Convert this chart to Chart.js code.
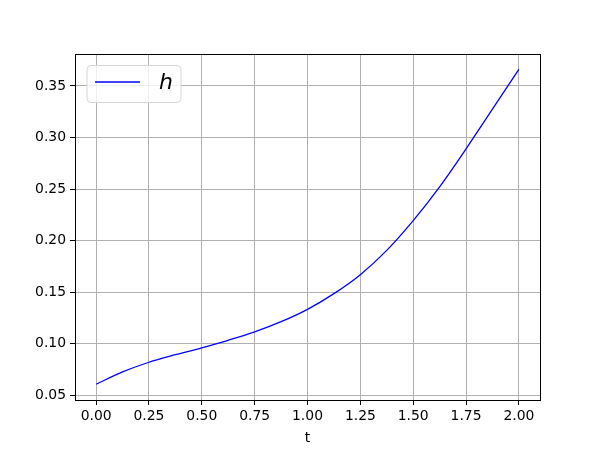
<!DOCTYPE html>
<html>
<head>
<meta charset="utf-8">
<script src="https://cdn.jsdelivr.net/npm/chart.js@4/dist/chart.umd.min.js"></script>
<style>
  html, body { margin: 0; padding: 0; background: #fff; }
  #c { display: block; }
</style>
</head>
<body>
<canvas id="c" width="600" height="450"></canvas>
<script>
// ---- data ----
const tValues = [0, 0.125, 0.25, 0.375, 0.5, 0.625, 0.75, 0.875, 1.0, 1.125, 1.25, 1.375, 1.5, 1.625, 1.75, 1.875, 2.0];
const hValues = [0.0609, 0.0728, 0.0822, 0.0895, 0.0962, 0.1035, 0.1116, 0.1215, 0.1335, 0.1487, 0.1671, 0.1906, 0.2194, 0.2522, 0.2890, 0.3275, 0.3662];
const xTicks = [0, 0.25, 0.5, 0.75, 1.0, 1.25, 1.5, 1.75, 2.0];
const yTicks = [0.05, 0.10, 0.15, 0.20, 0.25, 0.30, 0.35];
const seriesLabel = 'h';
const xLabel = 't';

const FONT = 'DejaVu Sans';
const points = tValues.map((t, i) => ({ x: t, y: hValues[i] }));

const framePlugin = {
  id: 'frame',
  afterDatasetsDraw(chart) {
    const { ctx, chartArea: a } = chart;
    ctx.save();
    ctx.strokeStyle = '#000';
    ctx.lineWidth = 1;
    const l = Math.round(a.left) + 0.5, t = Math.round(a.top) + 0.5;
    const r = Math.round(a.right) + 0.5, b = Math.round(a.bottom) + 0.5;
    ctx.strokeRect(l, t, r - l, b - t);
    ctx.restore();
  },
  afterDraw(chart) {
    const { ctx, chartArea: a } = chart;
    const ds = chart.data.datasets[0];
    // legend box
    const x0 = a.left + 12, y0 = a.top + 11.5, w = 94, h = 37, r = 4;
    ctx.save();
    ctx.beginPath();
    ctx.moveTo(x0 + r, y0);
    ctx.arcTo(x0 + w, y0, x0 + w, y0 + h, r);
    ctx.arcTo(x0 + w, y0 + h, x0, y0 + h, r);
    ctx.arcTo(x0, y0 + h, x0, y0, r);
    ctx.arcTo(x0, y0, x0 + w, y0, r);
    ctx.closePath();
    ctx.fillStyle = 'rgba(255,255,255,0.8)';
    ctx.fill();
    ctx.strokeStyle = '#d6d6d6';
    ctx.lineWidth = 1;
    ctx.stroke();
    // handle
    const cy = y0 + 16.5;
    ctx.beginPath();
    ctx.moveTo(x0 + 8, cy);
    ctx.lineTo(x0 + 53, cy);
    ctx.strokeStyle = ds.borderColor;
    ctx.lineWidth = ds.borderWidth;
    ctx.stroke();
    // label
    ctx.fillStyle = '#000';
    ctx.font = 'italic 22px "' + FONT + '"';
    ctx.textBaseline = 'middle';
    ctx.textAlign = 'left';
    ctx.fillText(ds.label, x0 + 72, cy + 1);
    ctx.restore();
  }
};

new Chart(document.getElementById('c'), {
  type: 'line',
  data: {
    datasets: [{
      label: seriesLabel,
      data: points,
      borderColor: '#0000ff',
      borderWidth: 1.3,
      pointRadius: 0,
      fill: false,
      cubicInterpolationMode: 'monotone'
    }]
  },
  options: {
    responsive: false,
    devicePixelRatio: 1,
    animation: false,
    layout: { padding: { left: 0, right: 60, top: 54, bottom: 0 } },
    plugins: { legend: { display: false }, tooltip: { enabled: false } },
    scales: {
      x: {
        type: 'linear',
        min: -0.1,
        max: 2.1,
        afterBuildTicks: s => { s.ticks = xTicks.map(v => ({ value: v })); },
        afterFit: s => { s.height = 50; },
        ticks: {
          callback: v => Number(v).toFixed(2),
          color: '#000',
          font: { family: FONT, size: 13.9 },
          padding: 3,
          maxRotation: 0,
          autoSkip: false
        },
        grid: { color: '#b0b0b0', lineWidth: 1, tickLength: 5, tickColor: '#000', drawTicks: true },
        border: { display: false },
        title: {
          display: true, text: xLabel, color: '#000',
          font: { family: FONT, size: 13.9 },
          padding: { top: 0, bottom: 3 }
        }
      },
      y: {
        type: 'linear',
        min: 0.0456,
        max: 0.381,
        afterBuildTicks: s => { s.ticks = yTicks.map(v => ({ value: v })); },
        afterFit: s => { s.width = 75; },
        ticks: {
          callback: v => Number(v).toFixed(2),
          color: '#000',
          font: { family: FONT, size: 13.9 },
          padding: 4,
          autoSkip: false
        },
        grid: { color: '#b0b0b0', lineWidth: 1, tickLength: 5, tickColor: '#000', drawTicks: true },
        border: { display: false }
      }
    }
  },
  plugins: [framePlugin]
});
</script>
</body>
</html>
